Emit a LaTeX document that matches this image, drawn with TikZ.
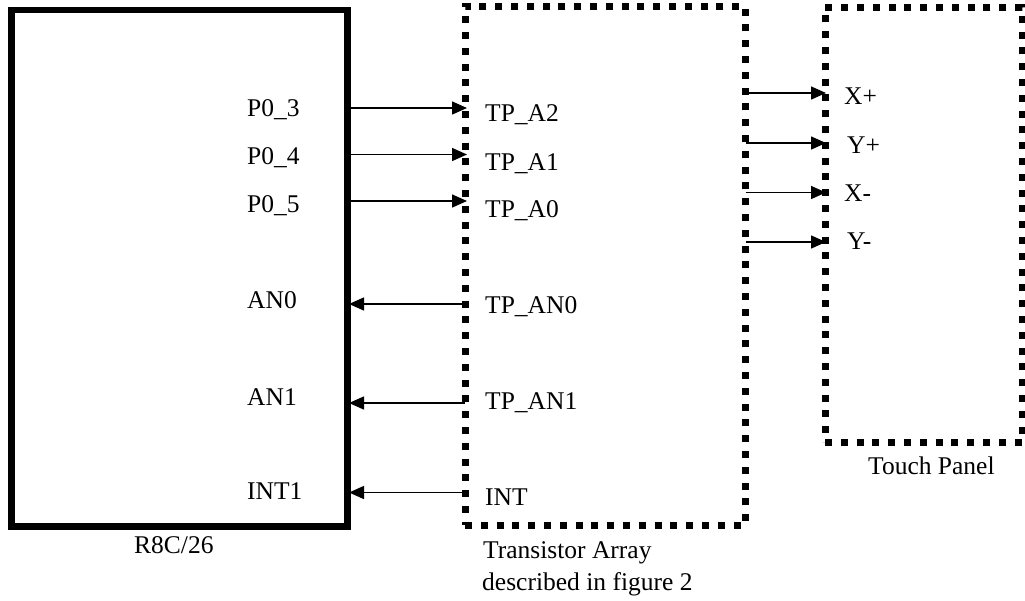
\documentclass[tikz,border=0pt]{standalone}
\usepackage{fontspec}
\setmainfont{Liberation Serif}
\usetikzlibrary{arrows.meta}
\tikzset{
  lbl/.style={anchor=base west,inner sep=0pt,font=\fontsize{25.5}{31}\selectfont},
  solidbox/.style={draw,line width=6.5pt,inner sep=0pt,outer sep=0pt},
  dotbox/.style={draw,line width=7pt,dash pattern=on 7pt off 8.8pt,inner sep=0pt,outer sep=0pt},
  arr/.style={line width=1.5pt,-{Triangle[length=15pt,width=13pt]}}
}
\begin{document}
\begin{tikzpicture}[x=1pt,y=-1pt]
\useasboundingbox (0,0) rectangle (1025,600);
% boxes
\node[solidbox,minimum width=336pt,minimum height=516.5pt] (r8c) at (179.5,268.25) {};
\node[dotbox,minimum width=280.5pt,minimum height=519pt] (ta) at (605.25,265.5) {};
\node[dotbox,minimum width=197pt,minimum height=435pt] (tp) at (923.5,224.5) {};
% arrow end points
\coordinate (a3) at (467,108);
\coordinate (a4) at (467,154.5);
\coordinate (a5) at (467,201);
\coordinate (b0) at (349,304);
\coordinate (b1) at (349,403);
\coordinate (b2) at (349,492.5);
\coordinate (c1) at (826,93);
\coordinate (c2) at (826,143);
\coordinate (c3) at (826,192.5);
\coordinate (c4) at (826,242);
% arrows
\draw[arr] (r8c.east |- a3) -- (a3);
\draw[arr] (r8c.east |- a4) -- (a4);
\draw[arr] (r8c.east |- a5) -- (a5);
\draw[arr] (ta.west |- b0) -- (b0);
\draw[arr] (ta.west |- b1) -- (b1);
\draw[arr] (ta.west |- b2) -- (b2);
\draw[arr] (ta.east |- c1) -- (c1);
\draw[arr] (ta.east |- c2) -- (c2);
\draw[arr] (ta.east |- c3) -- (c3);
\draw[arr] (ta.east |- c4) -- (c4);
% labels
\node[lbl] (lp3) at (247,116.5) {P0\_3};
\node[lbl] (lp4) at (247,164) {P0\_4};
\node[lbl] (lp5) at (247,212) {P0\_5};
\node[lbl] (lan0) at (247,308) {AN0};
\node[lbl] (lan1) at (247,405) {AN1};
\node[lbl] (lint1) at (247,499) {INT1};
\node[lbl] (lr8c) at (134,553) {R8C/26};
\node[lbl] (ltpa2) at (485,121.5) {TP\_A2};
\node[lbl] (ltpa1) at (485,170) {TP\_A1};
\node[lbl] (ltpa0) at (485,217) {TP\_A0};
\node[lbl] (ltpan0) at (485,313) {TP\_AN0};
\node[lbl] (ltpan1) at (485,409) {TP\_AN1};
\node[lbl] (lint) at (485,505) {INT};
\node[lbl] (lta1) at (483,558) {Transistor Array};
\node[lbl] (lta2) at (482,590) {described in figure 2};
\node[lbl] (lxp) at (844,104) {X+};
\node[lbl] (lyp) at (847,153) {Y+};
\node[lbl] (lxm) at (844,201) {X-};
\node[lbl] (lym) at (847,249) {Y-};
\node[lbl] (ltp) at (868,474) {Touch Panel};
\end{tikzpicture}
\end{document}
